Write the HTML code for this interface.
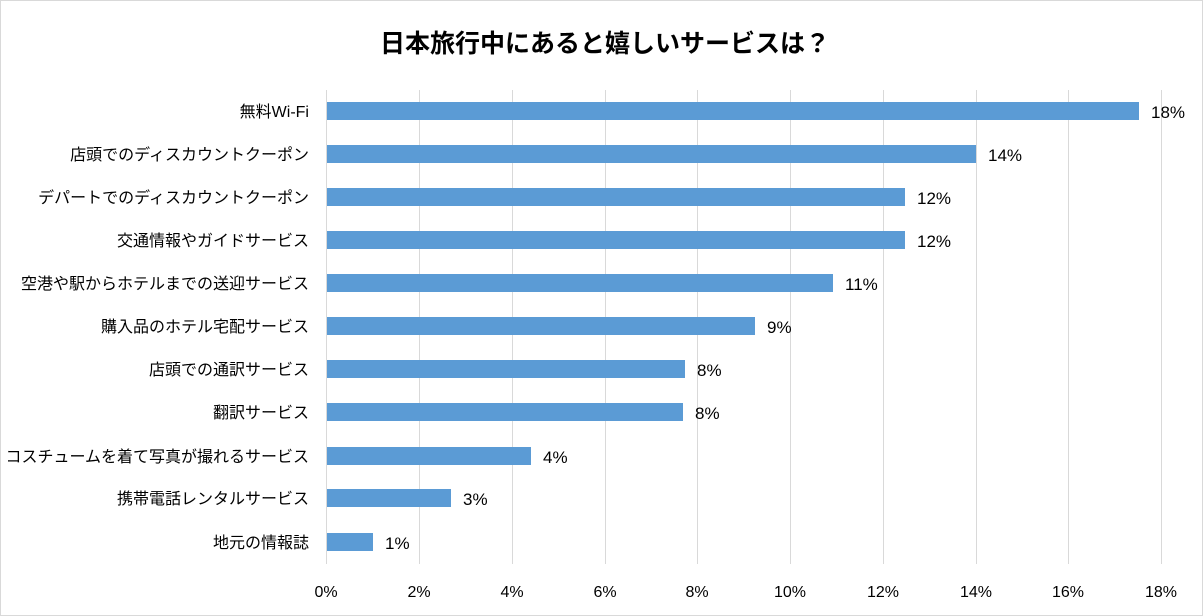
<!DOCTYPE html>
<html><head><meta charset="utf-8"><style>
html,body{margin:0;padding:0;background:#fff}
svg{display:block}
text{font-family:"Liberation Sans","Noto Sans CJK JP",sans-serif;fill:#000}
</style></head><body>
<svg width="1203" height="616" viewBox="0 0 1203 616">
<rect x="0.5" y="0.5" width="1202" height="615" fill="#fff" stroke="#d9d9d9"/>
<text x="605" y="52" text-anchor="middle" font-size="25" font-weight="bold">日本旅行中にあると嬉しいサービスは？</text>
<g stroke="#d9d9d9" stroke-width="1">
<line x1="326.5" y1="90" x2="326.5" y2="564"/>
<line x1="419.5" y1="90" x2="419.5" y2="564"/>
<line x1="512.5" y1="90" x2="512.5" y2="564"/>
<line x1="605.5" y1="90" x2="605.5" y2="564"/>
<line x1="697.5" y1="90" x2="697.5" y2="564"/>
<line x1="790.5" y1="90" x2="790.5" y2="564"/>
<line x1="883.5" y1="90" x2="883.5" y2="564"/>
<line x1="976.5" y1="90" x2="976.5" y2="564"/>
<line x1="1068.5" y1="90" x2="1068.5" y2="564"/>
<line x1="1161.5" y1="90" x2="1161.5" y2="564"/>
</g>
<g fill="#5b9bd5">
<rect x="327" y="102" width="812" height="18"/>
<rect x="327" y="145" width="649" height="18"/>
<rect x="327" y="188" width="578" height="18"/>
<rect x="327" y="231" width="578" height="18"/>
<rect x="327" y="274" width="506" height="18"/>
<rect x="327" y="317" width="428" height="18"/>
<rect x="327" y="360" width="358" height="18"/>
<rect x="327" y="403" width="356" height="18"/>
<rect x="327" y="447" width="204" height="18"/>
<rect x="327" y="489" width="124" height="18"/>
<rect x="327" y="533" width="46" height="18"/>
</g>
<g font-size="16" text-anchor="end">
<text x="309" y="117">無料Wi-Fi</text>
<text x="309" y="160">店頭でのディスカウントクーポン</text>
<text x="309" y="203">デパートでのディスカウントクーポン</text>
<text x="309" y="246">交通情報やガイドサービス</text>
<text x="309" y="289">空港や駅からホテルまでの送迎サービス</text>
<text x="309" y="332">購入品のホテル宅配サービス</text>
<text x="309" y="375">店頭での通訳サービス</text>
<text x="309" y="418">翻訳サービス</text>
<text x="309" y="462">コスチュームを着て写真が撮れるサービス</text>
<text x="309" y="504">携帯電話レンタルサービス</text>
<text x="309" y="548">地元の情報誌</text>
</g>
<g font-size="17">
<text x="1151" y="118">18%</text>
<text x="988" y="161">14%</text>
<text x="917" y="204">12%</text>
<text x="917" y="247">12%</text>
<text x="845" y="290">11%</text>
<text x="767" y="333">9%</text>
<text x="697" y="376">8%</text>
<text x="695" y="419">8%</text>
<text x="543" y="463">4%</text>
<text x="463" y="505">3%</text>
<text x="385" y="549">1%</text>
</g>
<g font-size="16" text-anchor="middle">
<text x="326" y="597">0%</text>
<text x="419" y="597">2%</text>
<text x="512" y="597">4%</text>
<text x="605" y="597">6%</text>
<text x="697" y="597">8%</text>
<text x="790" y="597">10%</text>
<text x="883" y="597">12%</text>
<text x="976" y="597">14%</text>
<text x="1068" y="597">16%</text>
<text x="1161" y="597">18%</text>
</g>
</svg>
</body></html>
